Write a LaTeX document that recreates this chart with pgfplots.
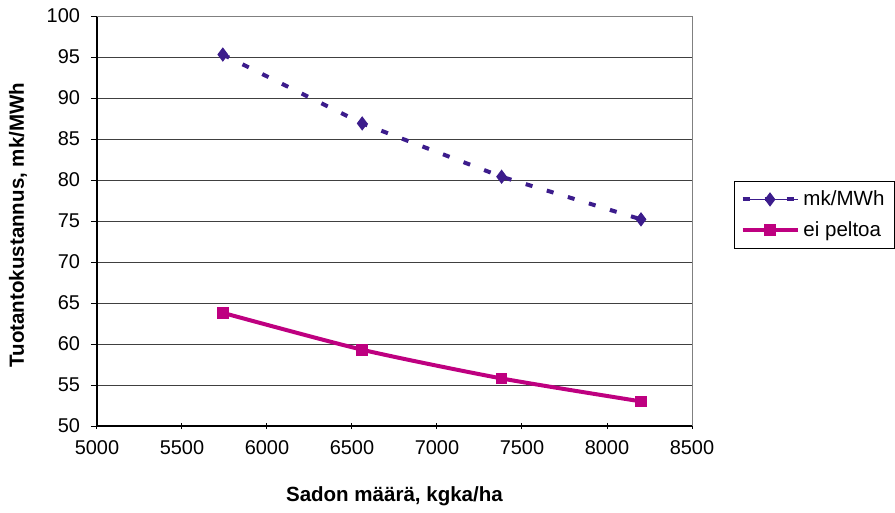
\documentclass[border=0pt]{standalone}
\usepackage{pgfplots}
\pgfplotsset{compat=1.18}
\usepackage{fontspec}
\setmainfont{Liberation Sans}
\definecolor{cpurp}{RGB}{60,28,140}
\definecolor{cpink}{RGB}{190,0,128}
\begin{document}
\begin{tikzpicture}
\fontsize{10}{12}\selectfont
\begin{axis}[
  at={(0,0)}, anchor=south west,
  scale only axis, width=297.5bp, height=205bp,
  xmin=5000, xmax=8500, ymin=50, ymax=100,
  xtick={5000,5500,...,8500}, ytick={50,55,...,100},
  /pgf/number format/assume math mode=true,
  /pgf/number format/set thousands separator={},
  ticklabel style={font=\fontsize{10}{12}\selectfont},
  axis lines*=left,
  x axis line style={-}, y axis line style={-},
  ymajorgrids, grid style={black!75, line width=0.5bp},
  major tick length=3bp,
  x tick style={black, line width=0.5bp}, y tick style={black,line width=0.5bp},
  xtick align=center, ytick align=outside,
  axis line style={black, line width=0.6bp},
  xlabel={\textbf{Sadon määrä, kgka/ha}},
  ylabel={\textbf{Tuotantokustannus, mk/MWh}},
  label style={font=\fontsize{10.3}{12}\selectfont},
  xlabel style={at={(axis description cs:0.5,-0.171)}, anchor=center},
  ylabel style={at={(axis description cs:-0.1328,0.49)}, anchor=center, rotate=0},
  xticklabel style={yshift=-2.5bp},
  yticklabel style={xshift=-2bp},
  legend style={at={(1.0706,0.515)}, anchor=west, draw=black, line width=0.5bp,
    font=\fontsize{10.3}{12}\selectfont, inner xsep=3bp, inner ysep=2.5bp, row sep=2.5bp,
    legend cell align=left},
  legend image code/.code={\draw[#1, line width=2bp] (0bp,0bp) -- (27.5bp,0bp); \draw[#1, line width=0.5bp, solid, mark repeat=2, mark phase=2] plot coordinates {(0bp,0bp) (13.75bp,0bp) (27.5bp,0bp)};},
  clip=false,
]
\draw[gray, line width=0.5bp] (rel axis cs:0,1) -- (rel axis cs:1,1) -- (rel axis cs:1,0);
\addplot[cpurp, line width=2bp, dash pattern=on 3.5bp off 7.5bp,
  mark=diamond*, mark size=3.2bp, mark options={solid, fill=cpurp, line width=0.5bp}]
  coordinates {(5740,95.3) (6560,86.9) (7380,80.4) (8200,75.2)};
\addlegendentry{mk/MWh}
\addplot[cpink, line width=2bp, smooth, tension=0.4,
  mark=square*, mark size=2.7bp, mark options={solid, fill=cpink, line width=0.5bp}]
  coordinates {(5740,63.8) (6560,59.3) (7380,55.8) (8200,53.0)};
\addlegendentry{ei peltoa}
\end{axis}
\useasboundingbox (-48.5bp,-41.5bp) rectangle ++(447.5bp,254.5bp);
\end{tikzpicture}
\end{document}
